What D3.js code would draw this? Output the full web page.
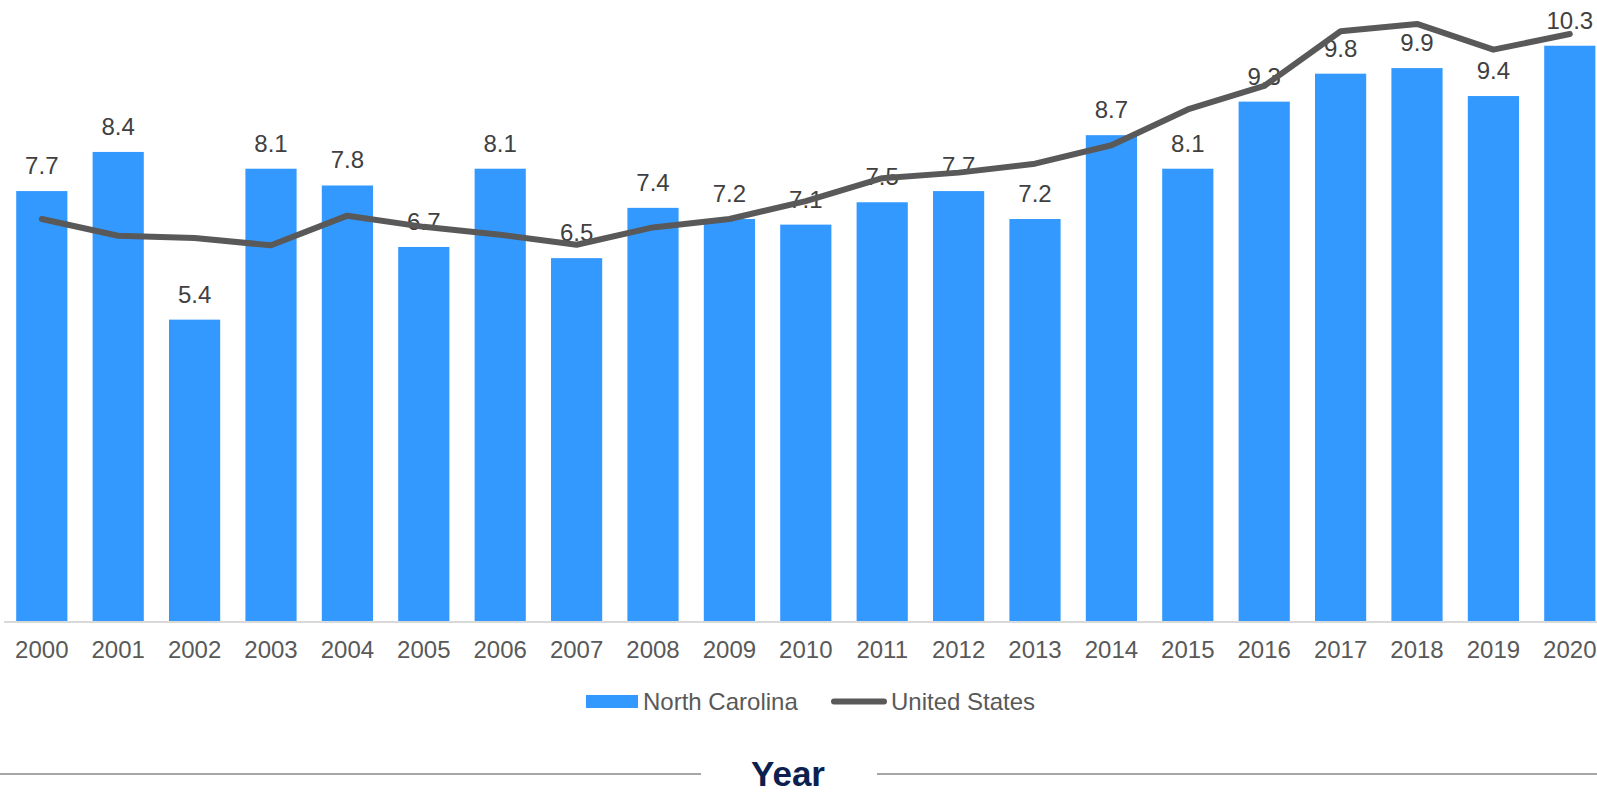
<!DOCTYPE html>
<html>
<head>
<meta charset="utf-8">
<script src="https://cdn.jsdelivr.net/npm/d3@7"></script>
<style>
  html, body { margin: 0; padding: 0; background: #fff; }
  svg { display: block; font-family: "Liberation Sans", Arial, sans-serif; }
</style>
</head>
<body>
<svg id="chart" width="1597" height="794"></svg>
<script>
// Years on the category axis
const years = ["2000","2001","2002","2003","2004","2005","2006","2007","2008","2009","2010",
               "2011","2012","2013","2014","2015","2016","2017","2018","2019","2020"];
// North Carolina (bars, labelled)
const ncValues = [7.7, 8.4, 5.4, 8.1, 7.8, 6.7, 8.1, 6.5, 7.4, 7.2, 7.1,
                  7.5, 7.7, 7.2, 8.7, 8.1, 9.3, 9.8, 9.9, 9.4, 10.3];
// United States (line)
const usValues = [7.2, 6.9, 6.86, 6.73, 7.26, 7.06, 6.92, 6.74, 7.05, 7.2, 7.52,
                  7.93, 8.03, 8.19, 8.52, 9.16, 9.58, 10.56, 10.69, 10.23, 10.51];
const seriesNames = ["North Carolina", "United States"];
const axisTitle = "Year";

const barColor = "#3399ff";
const lineColor = "#595959";
const labelSize = 24;

const svg = d3.select("#chart");

const x = d3.scaleBand()
  .domain(years)
  .range([3.6, 1608])
  .paddingInner(0.33)
  .paddingOuter(0.165);

const y = d3.scaleLinear()
  .domain([0, 11])
  .range([621.5, 621.5 - 11 * 55.9]);

// Bars
svg.append("g")
  .selectAll("rect")
  .data(years)
  .join("rect")
  .attr("x", d => x(d))
  .attr("width", x.bandwidth())
  .attr("y", (d, i) => y(ncValues[i]))
  .attr("height", (d, i) => y(0) - y(ncValues[i]))
  .attr("fill", barColor);

// Category axis baseline
svg.append("line")
  .attr("x1", 4).attr("x2", 1597)
  .attr("y1", y(0) + 0.5).attr("y2", y(0) + 0.5)
  .attr("stroke", "#d9d9d9").attr("stroke-width", 2);

// Category tick labels
const xAxis = d3.axisBottom(x).tickSize(0).tickPadding(0);
const gx = svg.append("g")
  .attr("transform", `translate(0, ${y(0)})`)
  .call(xAxis);
gx.select(".domain").remove();
gx.selectAll("text")
  .attr("dy", null)
  .attr("y", 36)
  .attr("font-size", labelSize)
  .attr("font-family", "Liberation Sans, Arial, sans-serif")
  .attr("fill", "#595959");

// Value labels above bars
svg.append("g")
  .selectAll("text")
  .data(years)
  .join("text")
  .attr("x", d => x(d) + x.bandwidth() / 2)
  .attr("y", (d, i) => y(ncValues[i]) - 17)
  .attr("text-anchor", "middle")
  .attr("font-size", labelSize)
  .attr("fill", "#404040")
  .text((d, i) => ncValues[i].toFixed(1));

// United States line
const line = d3.line()
  .x((d, i) => x(years[i]) + x.bandwidth() / 2)
  .y(d => y(d));
svg.append("path")
  .datum(usValues)
  .attr("d", line)
  .attr("fill", "none")
  .attr("stroke", lineColor)
  .attr("stroke-width", 6)
  .attr("stroke-linejoin", "round")
  .attr("stroke-linecap", "round");

// Legend
const legend = svg.append("g");
legend.append("rect")
  .attr("x", 586).attr("y", 695)
  .attr("width", 52).attr("height", 13)
  .attr("fill", barColor);
legend.append("text")
  .attr("x", 643).attr("y", 710)
  .attr("font-size", labelSize).attr("fill", "#595959")
  .text(seriesNames[0]);
legend.append("line")
  .attr("x1", 834).attr("x2", 884)
  .attr("y1", 701.5).attr("y2", 701.5)
  .attr("stroke", lineColor).attr("stroke-width", 6)
  .attr("stroke-linecap", "round");
legend.append("text")
  .attr("x", 891).attr("y", 710)
  .attr("font-size", labelSize).attr("fill", "#595959")
  .text(seriesNames[1]);

// Axis title with rules on either side
svg.append("line")
  .attr("x1", 0).attr("x2", 701)
  .attr("y1", 774).attr("y2", 774)
  .attr("stroke", "#a6a6a6").attr("stroke-width", 2);
svg.append("line")
  .attr("x1", 877).attr("x2", 1597)
  .attr("y1", 774).attr("y2", 774)
  .attr("stroke", "#a6a6a6").attr("stroke-width", 2);
svg.append("text")
  .attr("x", 788).attr("y", 786)
  .attr("text-anchor", "middle")
  .attr("font-size", 35).attr("font-weight", "bold")
  .attr("fill", "#0d1f4f")
  .text(axisTitle);
</script>
</body>
</html>
